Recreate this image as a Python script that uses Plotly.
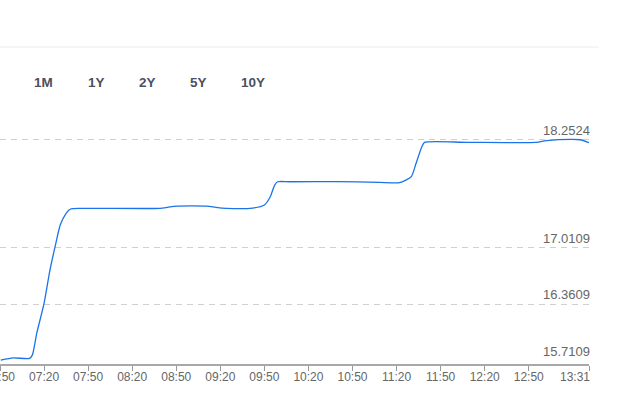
import plotly.graph_objects as go

# ---- data ----
times = ["06:50:30", "06:59", "07:10", "07:12", "07:15", "07:20", "07:24", "07:28",
         "07:31", "07:35", "07:38", "07:45", "07:58", "08:39", "08:44", "08:50",
         "09:11", "09:17", "09:24", "09:42", "09:50", "09:54", "09:57", "09:59",
         "10:07", "10:40", "11:08", "11:22", "11:30", "11:33", "11:37", "11:39",
         "12:08", "12:55", "13:02", "13:20", "13:25", "13:31"]
values = [15.715, 15.741, 15.735, 15.773, 16.023, 16.369, 16.753, 17.061,
          17.272, 17.407, 17.457, 17.465, 17.465, 17.465, 17.476, 17.491,
          17.491, 17.476, 17.465, 17.468, 17.503, 17.598, 17.733, 17.771,
          17.771, 17.772, 17.765, 17.760, 17.831, 17.969, 18.166, 18.225,
          18.225, 18.225, 18.245, 18.260, 18.255, 18.222]

tick_labels = ["06:50", "07:20", "07:50", "08:20", "08:50", "09:20", "09:50",
               "10:20", "10:50", "11:20", "11:50", "12:20", "12:50"]
last_tick = "13:31"
y_levels = [15.7109, 16.3609, 17.0109, 18.2524]
y_grid = [16.3609, 17.0109, 18.2524]
buttons = ["1M", "1Y", "2Y", "5Y", "10Y"]
button_px = [43, 96, 147, 198, 253]

DAY = "2024-01-01 "
W, H = 622, 409
L, R, T, B = 0, 33, 110, 45
plot_w = W - L - R

fig = go.Figure()
fig.add_trace(go.Scatter(
    x=[DAY + t for t in times], y=values, mode="lines",
    line=dict(color="#1a73e8", width=1.3, shape="spline", smoothing=0.6),
    hoverinfo="skip", showlegend=False))

fig.update_layout(
    width=W, height=H, margin=dict(l=L, r=R, t=T, b=B, autoexpand=False),
    paper_bgcolor="white", plot_bgcolor="white",
    font=dict(family="Arial, Liberation Sans, sans-serif", color="#666666"),
    xaxis=dict(
        type="date", range=[DAY + "06:50", DAY + last_tick],
        tickvals=[DAY + t for t in tick_labels] + [DAY + last_tick],
        ticktext=tick_labels + [""],
        ticklabeloverflow="allow", automargin=False, ticklabelstandoff=-4,
        showgrid=False, zeroline=False,
        showline=True, linecolor="#a8a8a8", linewidth=2,
        ticks="outside", ticklen=5, tickwidth=1, tickcolor="#999999",
        tickfont=dict(size=12, color="#666666"),
    ),
    yaxis=dict(
        range=[15.671, 18.598], tickvals=y_grid, showticklabels=False,
        automargin=False,
        showgrid=True, gridcolor="#d0d0d0", griddash="6px,5px", gridwidth=1,
        zeroline=False, showline=False,
    ),
)

annotations = []
for v in y_levels:
    annotations.append(dict(
        xref="paper", yref="y", x=1, y=v, xanchor="right", yanchor="bottom",
        xshift=3, yshift=0, showarrow=False, text=f"{v:.4f}",
        font=dict(size=13, color="#666666")))
annotations.append(dict(
    xref="x", yref="paper", x=DAY + last_tick, y=0, xanchor="right", yanchor="top",
    xshift=3, yshift=-4, showarrow=False, text=last_tick,
    font=dict(size=12, color="#666666")))
for b, px in zip(buttons, button_px):
    annotations.append(dict(
        xref="paper", yref="paper", x=(px - L) / plot_w, y=(H - B - 82.5) / (H - T - B),
        xanchor="center", yanchor="middle", showarrow=False, text=f"<b>{b}</b>",
        font=dict(size=13.5, color="#4a5160")))
fig.update_layout(annotations=annotations)

fig.add_shape(type="line", xref="paper", yref="paper",
              x0=0, x1=599 / plot_w, y0=(H - B - 47) / (H - T - B), y1=(H - B - 47) / (H - T - B),
              line=dict(color="#ececec", width=1))

fig.write_html("out.html", config={"displayModeBar": False},
               post_script="document.body.style.margin='0';")
